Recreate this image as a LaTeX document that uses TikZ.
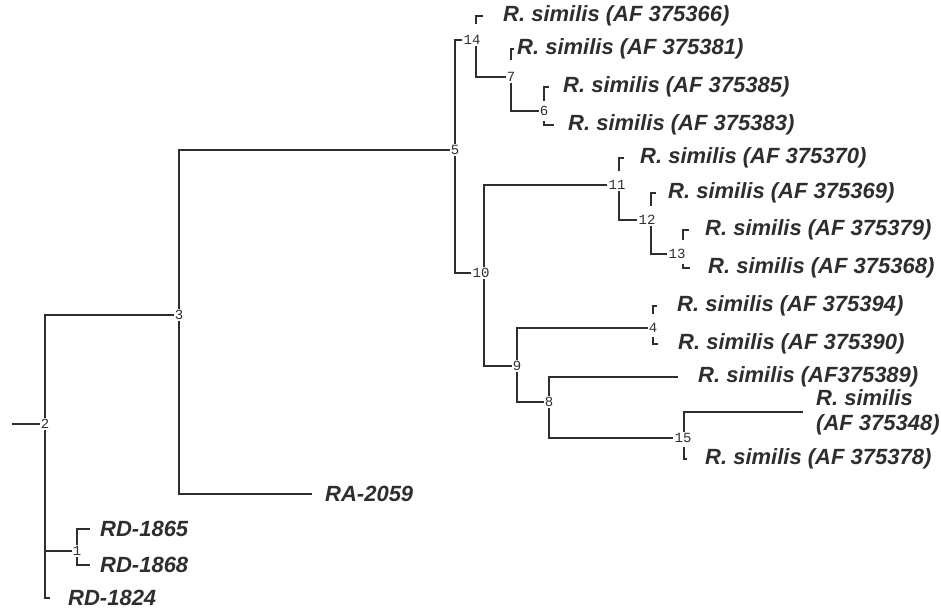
\documentclass[tikz,border=0pt]{standalone}
\usepackage{fontspec}
\setmainfont{Liberation Sans}
\newfontfamily\numfont{Liberation Mono}
\definecolor{ink}{HTML}{2E2E2E}
\tikzset{
  leaf/.style={anchor=west, inner sep=0pt, text=ink, font=\fontsize{22}{25}\selectfont\bfseries\itshape},
  inode/.style={inner sep=1pt, text=ink, font=\fontsize{14}{14}\selectfont\numfont},
  branch/.style={draw=ink, line width=1.9pt},
  tick/.style={draw=ink, line width=1.5pt}
}
\begin{document}
\begin{tikzpicture}[x=1pt,y=-1pt]
\useasboundingbox (0,0) rectangle (941,612);
% internal nodes
\node[inode] (n2)  at (45,424) {2};
\node[inode] (n3)  at (179,315) {3};
\node[inode] (n1)  at (77,551) {1};
\node[inode] (n5)  at (455,150) {5};
\node[inode] (n14) at (472,40) {14};
\node[inode] (n7)  at (511,77) {7};
\node[inode] (n6)  at (544,111) {6};
\node[inode] (n10) at (481,273) {10};
\node[inode] (n11) at (617,185) {11};
\node[inode] (n12) at (647,220) {12};
\node[inode] (n13) at (677,254) {13};
\node[inode] (n9)  at (517,366) {9};
\node[inode] (n4)  at (653,328) {4};
\node[inode] (n8)  at (549,402) {8};
\node[inode] (n15) at (683,438) {15};
% leaves
\node[leaf] (l366) at (503,16)  {R. similis (AF 375366)};
\node[leaf] (l381) at (517,49)  {R. similis (AF 375381)};
\node[leaf] (l385) at (563,87)  {R. similis (AF 375385)};
\node[leaf] (l383) at (568,125) {R. similis (AF 375383)};
\node[leaf] (l370) at (640,158) {R. similis (AF 375370)};
\node[leaf] (l369) at (668,193) {R. similis (AF 375369)};
\node[leaf] (l379) at (705,230) {R. similis (AF 375379)};
\node[leaf] (l368) at (708,268) {R. similis (AF 375368)};
\node[leaf] (l394) at (677,306) {R. similis (AF 375394)};
\node[leaf] (l390) at (678,344) {R. similis (AF 375390)};
\node[leaf] (l389) at (698,377) {R. similis (AF375389)};
\node[leaf, align=left] (l348) at (816,412) {R. similis\\(AF 375348)};
\node[leaf] (l378) at (705,459) {R. similis (AF 375378)};
\node[leaf] (ra)     at (325,494) {RA-2059};
\node[leaf] (rd1865) at (100,529) {RD-1865};
\node[leaf] (rd1868) at (100,565) {RD-1868};
\node[leaf] (rd1824) at (68,598)  {RD-1824};
\coordinate (root) at (12,424);
% branches
\draw[branch] (root) -- (n2);
\draw[branch] (n2) |- (n3);
\draw[branch] (n2) |- (n1);
\draw[branch, shorten >=18pt] (n2) |- (rd1824);
\draw[tick, shorten >=10pt] (n1) |- (rd1865);
\draw[tick, shorten >=10pt] (n1) |- (rd1868);
\draw[branch] (n3) |- (n5);
\draw[branch, shorten >=13pt] (n3) |- (ra);
\draw[branch] (n5) |- (n14);
\draw[branch] (n5) |- (n10);
\draw[tick, shorten <=10pt, shorten >=20pt] ([xshift=4pt]n14.north) |- (l366);
\draw[branch] ([xshift=4pt]n14.south) |- (n7);
\draw[tick, shorten <=11pt, shorten >=3pt] (n7) |- (l381);
\draw[branch] (n7) |- (n6);
\draw[tick, shorten <=4pt, shorten >=14pt] (n6) |- (l385);
\draw[tick, shorten <=4pt, shorten >=14pt] (n6) |- (l383);
\draw[branch] ([xshift=3pt]n10.north) |- (n11);
\draw[branch] ([xshift=3pt]n10.south) |- (n9);
\draw[tick, shorten <=8pt, shorten >=16pt] ([xshift=2pt]n11.north) |- (l370);
\draw[branch] ([xshift=2pt]n11.south) |- (n12);
\draw[tick, shorten <=8pt, shorten >=12pt] ([xshift=4pt]n12.north) |- (l369);
\draw[branch] ([xshift=4pt]n12.south) |- (n13);
\draw[tick, shorten <=8pt, shorten >=16pt] ([xshift=6pt]n13.north) |- (l379);
\draw[tick, shorten <=4pt, shorten >=18pt] ([xshift=6pt]n13.south) |- (l368);
\draw[branch] (n9) |- (n4);
\draw[branch] (n9) |- (n8);
\draw[tick, shorten <=8pt, shorten >=20pt] (n4) |- (l394);
\draw[tick, shorten <=3pt, shorten >=20pt] (n4) |- (l390);
\draw[branch, shorten >=20pt] (n8) |- (l389);
\draw[branch] (n8) |- (n15);
\draw[branch, shorten >=13pt] ([xshift=1pt]n15.north) |- (l348);
\draw[tick, shorten <=3pt, shorten >=18pt] ([xshift=1pt]n15.south) |- (l378);
\end{tikzpicture}
\end{document}
